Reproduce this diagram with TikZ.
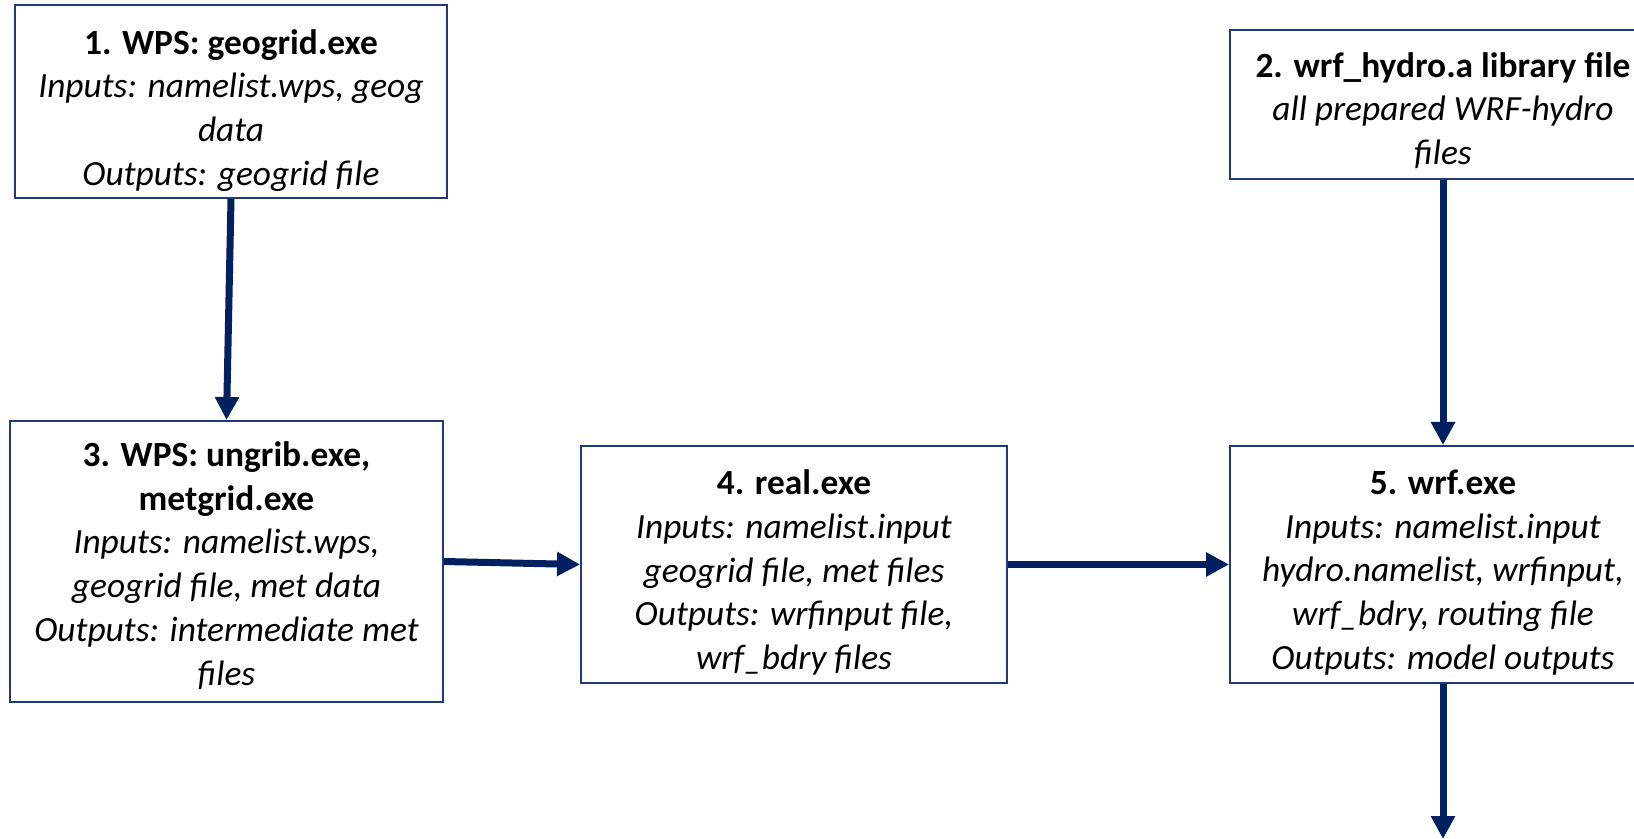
\documentclass[tikz,border=0pt]{standalone}
\usepackage{fontspec}
\setmainfont{Carlito}
\usetikzlibrary{arrows.meta,calc}
\definecolor{boxc}{HTML}{1F3A78}
\definecolor{arrc}{HTML}{002060}
\begin{document}
\begin{tikzpicture}[x=0.5pt,y=-0.5pt,
  box/.style={draw=boxc, line width=1pt, fill=white, inner sep=0pt},
  txt/.style={align=center, inner sep=0pt, font=\fontsize{17.7}{21.9}\selectfont, text=black},
  arr/.style={draw=arrc, line width=3.5pt, -{Triangle[length=11.5pt,width=11.5pt]}}]
\useasboundingbox (0,0) rectangle (1634,839);
\clip (0,0) rectangle (1634,839);
\node[box, minimum width=216pt, minimum height=96.5pt] (b1) at (231,101.5) {};
\node[box, minimum width=213pt, minimum height=74.5pt] (b2) at (1443,104.5) {};
\node[box, minimum width=216.5pt, minimum height=140.5pt] (b3) at (226.5,561.5) {};
\node[box, minimum width=213pt, minimum height=118.5pt] (b4) at (794,564.5) {};
\node[box, minimum width=213pt, minimum height=118.5pt] (b5) at (1443,564.5) {};
\node[txt] (t1) at ($(b1.center)+(0,9)$)
  {\textbf{1. WPS: geogrid.exe}\\ \textit{Inputs: namelist.wps, geog}\\ \textit{data}\\ \textit{Outputs: geogrid file}};
\node[txt] (t2) at ($(b2.center)+(0,6)$)
  {\textbf{2. wrf\_hydro.a library file}\\ \textit{all prepared WRF-hydro}\\ \textit{files}};
\node[txt] (t3) at ($(b3.center)+(0,4)$)
  {\textbf{3. WPS: ungrib.exe,}\\ \textbf{metgrid.exe}\\ \textit{Inputs: namelist.wps,}\\ \textit{geogrid file, met data}\\ \textit{Outputs: intermediate met}\\ \textit{files}};
\node[txt] (t4) at ($(b4.center)+(0,8)$)
  {\textbf{4. real.exe}\\ \textit{Inputs: namelist.input}\\ \textit{geogrid file, met files}\\ \textit{Outputs: wrfinput file,}\\ \textit{wrf\_bdry files}};
\node[txt] (t5) at ($(b5.center)+(0,8)$)
  {\textbf{5. wrf.exe}\\ \textit{Inputs: namelist.input}\\ \textit{hydro.namelist, wrfinput,}\\ \textit{wrf\_bdry, routing file}\\ \textit{Outputs: model outputs}};
\coordinate (out) at (1443,839);
\draw[arr] (b1.south) -- (b3.north);
\draw[arr] (b2.south) -- (b5.north);
\draw[arr] (b3.east) -- (b4.west);
\draw[arr] (b4.east) -- (b5.west);
\draw[arr] (b5.south) -- (out);
\end{tikzpicture}
\end{document}
